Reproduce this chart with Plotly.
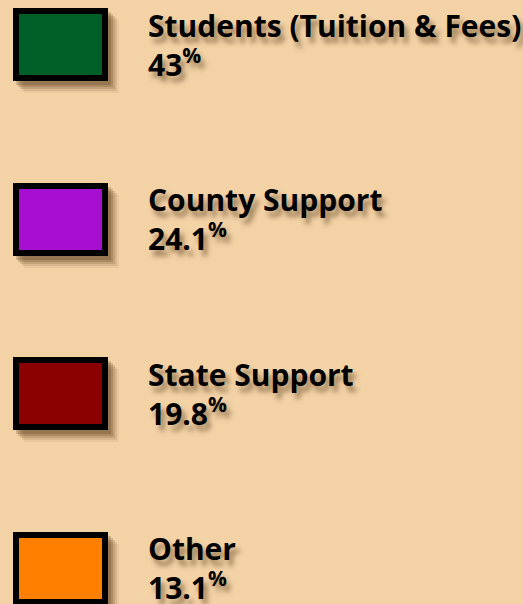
import plotly.graph_objects as go

# ---- data ----
categories = ["Students (Tuition & Fees)", "County Support", "State Support", "Other"]
shares = [43, 24.1, 19.8, 13.1]
colors = ["#005E27", "#A60FCF", "#8B0000", "#FF8000"]

# ---- layout constants (pixel-like units) ----
W, H = 523, 604
BG = "#F3D2A6"
BOX_X0, BOX_LEN = 16, 89          # swatch rectangle (line drawn centred on edge)
UNIT = 174.5                      # pixels per category step
TOP_CENTER = 44.5                 # pixel position of first swatch centre
BOX_H = 67 / UNIT                 # swatch height in category units
TEXT_X = 147

y_top = -TOP_CENTER / UNIT
y_bot = (H - TOP_CENTER) / UNIT

fig = go.Figure()

# soft drop shadow for swatches (layered, to fake a blur)
for dx, dy, alpha in [(3, 4, 0.22), (5, 6, 0.20), (7, 8, 0.16), (9, 10, 0.11), (11, 12, 0.06)]:
    fig.add_trace(go.Bar(
        y=categories, x=[BOX_LEN + 6] * len(categories), base=BOX_X0 - 3 + dx,
        orientation="h", width=BOX_H + 6 / UNIT,
        offset=-(BOX_H + 6 / UNIT) / 2 + dy / UNIT,
        marker=dict(color=f"rgba(80,50,20,{alpha})", line=dict(width=0)),
        hoverinfo="skip",
    ))

# swatches
fig.add_trace(go.Bar(
    y=categories, x=[BOX_LEN] * len(categories), base=BOX_X0,
    orientation="h", width=BOX_H,
    marker=dict(color=colors, line=dict(color="black", width=6)),
    hoverinfo="skip",
))

font = dict(family="Open Sans", size=30, color="black", weight="bold",
            shadow="4px 6px 5px rgba(90,60,25,0.55)")

for cat, val in zip(categories, shares):
    fig.add_annotation(x=TEXT_X, y=cat, xref="x", yref="y",
                       text=f"{cat}<br>{val:g}<sup>%</sup>",
                       xanchor="left", yanchor="middle", yshift=0,
                       align="left", borderpad=0,
                       showarrow=False, font=font)

fig.update_layout(
    width=W, height=H,
    margin=dict(l=0, r=0, t=0, b=0),
    paper_bgcolor=BG, plot_bgcolor=BG,
    showlegend=False, barmode="overlay", bargap=0,
    xaxis=dict(range=[0, W], visible=False, fixedrange=True),
    yaxis=dict(type="category", categoryorder="array", categoryarray=categories,
               range=[y_bot, y_top], visible=False, fixedrange=True),
)

fig.write_html(
    "out.html",
    config={"displayModeBar": False},
    post_script=f"document.body.style.margin='0';document.body.style.background='{BG}';",
)
